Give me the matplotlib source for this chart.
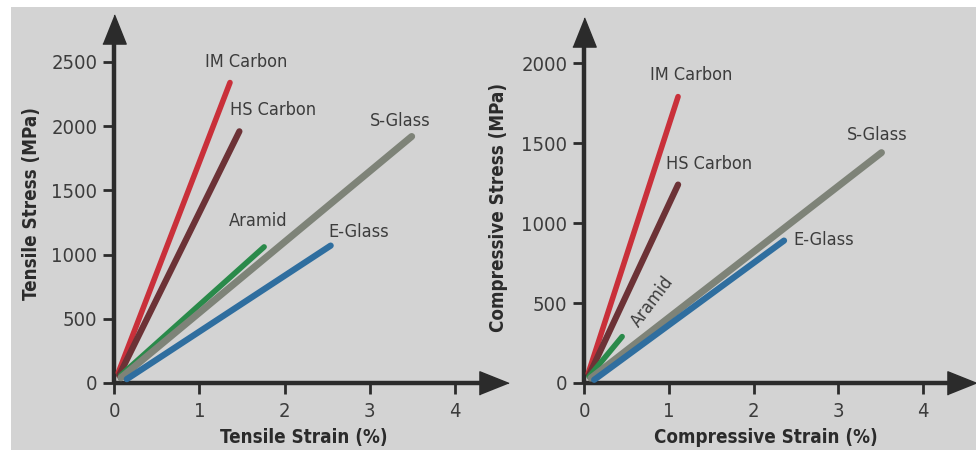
import matplotlib
matplotlib.use("Agg")
import matplotlib.pyplot as plt
from matplotlib.patches import Rectangle

plt.rcParams['font.family'] = ['DejaVu Sans']
plt.rcParams['font.stretch'] = 'condensed'

# Данные: растяжение
materials = ['IM Carbon', 'HS Carbon', 'Aramid', 'S-Glass', 'E-Glass']
colors = ['#c9303a', '#6c3236', '#2a8a4a', '#7e8378', '#2f6e9f']
widths = [4.0, 4.5, 4.0, 5.0, 4.5]

tens_start_x = [0.05, 0.06, 0.08, 0.08, 0.15]
tens_start_y = [80, 60, 60, 40, 30]
tens_end_x = [1.36, 1.47, 1.76, 3.49, 2.54]
tens_end_y = [2340, 1960, 1060, 1920, 1070]
tens_label_x = [1.55, 1.86, 1.69, 3.35, 2.87]
tens_label_y = [2500, 2126, 1262, 2040, 1176]

# Данные: сжатие
comp_start_x = [0.05, 0.06, 0.06, 0.08, 0.12]
comp_start_y = [60, 50, 40, 30, 20]
comp_end_x = [1.11, 1.11, 0.45, 3.51, 2.36]
comp_end_y = [1790, 1240, 290, 1440, 890]
comp_label_x = [1.26, 1.48, 0.81, 3.46, 2.83]
comp_label_y = [1925, 1369, 506, 1550, 894]
comp_label_rot = [0, 0, 53, 0, 0]

tens_yticks = [0, 500, 1000, 1500, 2000, 2500]
comp_yticks = [0, 500, 1000, 1500, 2000]
xticks = [0, 1, 2, 3, 4]

bg = '#d3d3d3'
axis_col = '#2b2b2b'
text_col = '#3c3c3c'

fig = plt.figure(figsize=(9.76, 4.5), dpi=100, facecolor='white')
fig.patches.append(Rectangle((11 / 976, 0), 1, (450 - 7) / 450, transform=fig.transFigure,
                             facecolor=bg, edgecolor='none', zorder=-10))

ax1 = fig.add_axes([114 / 976, 67 / 450, 380 / 976, 354 / 450])
ax2 = fig.add_axes([584 / 976, 67 / 450, 378 / 976, 351.5 / 450])

arrow_up = [(-0.8, -1), (0.8, -1), (0, 1)]
arrow_right = [(-1, -0.8), (-1, 0.8), (1, 0)]


def style_axis(ax, xmax, ymax, yticks, xlabel, ylabel, xl_pos, yl_pos):
    ax.set_facecolor('none')
    ax.set_xlim(0, xmax)
    ax.set_ylim(0, ymax)
    for s in ['top', 'right']:
        ax.spines[s].set_visible(False)
    for s in ['left', 'bottom']:
        ax.spines[s].set_linewidth(3.2)
        ax.spines[s].set_color(axis_col)
        ax.spines[s].set_capstyle('butt')
    ax.set_xticks(xticks)
    ax.set_yticks(yticks)
    ax.tick_params(direction='out', length=8, width=2, color=axis_col,
                   labelsize=14.5, labelcolor=text_col, pad=4)
    ax.tick_params(axis='x', pad=6)
    ax.plot(0, 1, marker=arrow_up, markersize=21, color=axis_col,
            transform=ax.transAxes, clip_on=False, zorder=5)
    ax.plot(1, 0, marker=arrow_right, markersize=21, color=axis_col,
            transform=ax.transAxes, clip_on=False, zorder=5)
    # подписи осей ставим вручную
    ax.text(xl_pos[0], xl_pos[1], xlabel, transform=ax.transAxes, fontsize=13.5,
            fontweight='bold', color='#2b2b2b', ha='center', va='center')
    ax.text(yl_pos[0], yl_pos[1], ylabel, transform=ax.transAxes, fontsize=13.5,
            fontweight='bold', color='#2b2b2b', ha='center', va='center', rotation=90)


for i in range(len(materials)):
    ax1.plot([tens_start_x[i], tens_end_x[i]], [tens_start_y[i], tens_end_y[i]],
             color=colors[i], lw=widths[i], solid_capstyle='round', zorder=3)
    ax1.text(tens_label_x[i], tens_label_y[i], materials[i], fontsize=13,
             color=text_col, ha='center', va='center')
    ax2.plot([comp_start_x[i], comp_end_x[i]], [comp_start_y[i], comp_end_y[i]],
             color=colors[i], lw=widths[i], solid_capstyle='round', zorder=3)
    ax2.text(comp_label_x[i], comp_label_y[i], materials[i], fontsize=13,
             color=text_col, ha='center', va='center', rotation=comp_label_rot[i],
             rotation_mode='anchor')

style_axis(ax1, 4.455, 2757, tens_yticks, 'Tensile Strain (%)', 'Tensile Stress (MPa)',
           (0.5, -0.155), (-0.216, 0.508))
style_axis(ax2, 4.46, 2197, comp_yticks, 'Compressive Strain (%)', 'Compressive Stress (MPa)',
           (0.4815, -0.156), (-0.2249, 0.5007))

fig.savefig('out.png', dpi=100, facecolor=fig.get_facecolor())
